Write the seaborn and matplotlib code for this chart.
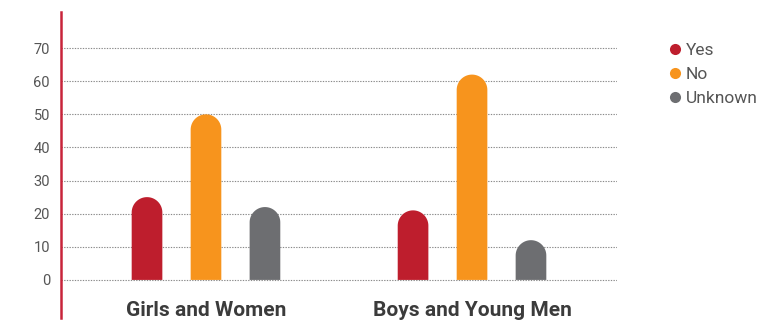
import matplotlib
matplotlib.use("Agg")
import matplotlib.pyplot as plt
from matplotlib.patches import Polygon
from matplotlib.lines import Line2D
import seaborn as sns
import pandas as pd
import numpy as np

groups = ["Girls and Women", "Boys and Young Men"]
responses = ["Yes", "No", "Unknown"]
yes_vals = [25, 21]
no_vals = [50, 62]
unknown_vals = [22, 12]
yticks = [0, 10, 20, 30, 40, 50, 60, 70]
colors = ["#BE1E2D", "#F7941D", "#6D6E71"]

rows = []
for g, y, n, u in zip(groups, yes_vals, no_vals, unknown_vals):
    rows += [(g, "Yes", y), (g, "No", n), (g, "Unknown", u)]
df = pd.DataFrame(rows, columns=["group", "response", "value"])

sns.set_theme(style="white")
plt.rcParams["font.family"] = ["Roboto", "DejaVu Sans"]

fig = plt.figure(figsize=(7.73, 3.22), dpi=100)
ax = fig.add_axes([61 / 773, 4 / 322, 556 / 773, 306 / 322])

sns.barplot(data=df, x="group", y="value", hue="response", order=groups,
            hue_order=responses, palette=colors, width=0.665, gap=0.48,
            saturation=1, linewidth=0, legend=False, ax=ax)

ax.set_xlim(-0.545, 1.545)
ax.set_ylim(-11.5, 80.9)
ax.set_yticks(yticks)
ax.set_yticklabels([str(t) for t in yticks], color="#555555", fontsize=10.5)
ax.tick_params(axis="y", length=0, pad=8)
ax.set_xticks([])
ax.set_xlabel("")
ax.set_ylabel("")

ax.yaxis.grid(True, color="#8a8a8a", linestyle=(0, (1.2, 1.2)), linewidth=0.8)
ax.set_axisbelow(True)
for s in ["top", "right", "bottom"]:
    ax.spines[s].set_visible(False)
ax.spines["left"].set_color("#C8243A")
ax.spines["left"].set_linewidth(1.8)

# Replace each bar by the same bar with a rounded (half-circle) top
fig.canvas.draw()
to_px = ax.transData
px_per_x = to_px.transform((1, 0))[0] - to_px.transform((0, 0))[0]
px_per_y = to_px.transform((0, 1))[1] - to_px.transform((0, 0))[1]
theta = np.linspace(0, np.pi, 60)
for p in list(ax.patches):
    x0, w, h = p.get_x(), p.get_width(), p.get_height()
    rx = w / 2
    ry = rx * px_per_x / px_per_y
    cx, cy = x0 + rx, h - ry
    arc = np.column_stack([cx + rx * np.cos(theta), cy + ry * np.sin(theta)])
    pts = np.vstack([[x0 + w, 0], arc, [x0, 0]])
    ax.add_patch(Polygon(pts, closed=True, facecolor=p.get_facecolor(),
                         edgecolor="none", linewidth=0, zorder=p.get_zorder()))
    p.remove()

for i, g in enumerate(groups):
    ax.text(i, -9.1, g, ha="center", va="center", fontsize=15,
            fontweight="bold", color="#3b3b3b")

handles = [Line2D([], [], linestyle="none", marker="o", markersize=8,
                  markerfacecolor=c, markeredgecolor="none") for c in colors]
fig.legend(handles, responses, loc="upper left",
           bbox_to_anchor=(659 / 773, 1 - 36 / 322), frameon=False,
           fontsize=12.5, labelcolor="#555555", handletextpad=0.15,
           handlelength=1.0, labelspacing=0.5, borderaxespad=0)

fig.savefig("out.png", dpi=100)
